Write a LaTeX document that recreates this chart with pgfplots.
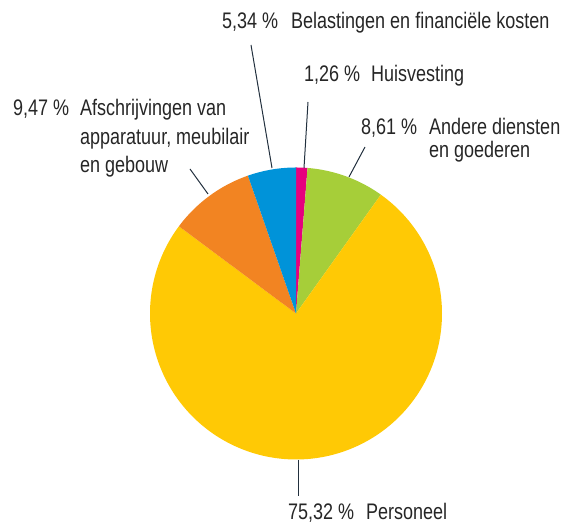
\documentclass[border=0pt]{standalone}
\usepackage{fontspec}
\setmainfont{Liberation Sans}[FakeStretch=0.80]
\usepackage{pgfplots}
\pgfplotsset{compat=1.18}
\definecolor{cpink}{HTML}{E6007E}
\definecolor{cgreen}{HTML}{A6CE39}
\definecolor{cyellow}{HTML}{FFC905}
\definecolor{corange}{HTML}{F28422}
\definecolor{cblue}{HTML}{0093D9}
\definecolor{ctext}{HTML}{262626}
\definecolor{cline}{HTML}{22303E}
\begin{document}
\begin{tikzpicture}
% shares in percent, clockwise from the top
\pgfmathsetmacro{\pA}{1.26}  % Huisvesting
\pgfmathsetmacro{\pB}{8.61}  % Andere diensten en goederen
\pgfmathsetmacro{\pC}{75.32} % Personeel
\pgfmathsetmacro{\pD}{9.47}  % Afschrijvingen
\pgfmathsetmacro{\pE}{5.34}  % Belastingen
\pgfmathsetmacro{\aO}{90}
\pgfmathsetmacro{\aA}{\aO-3.6*\pA}
\pgfmathsetmacro{\aB}{\aA-3.6*\pB}
\pgfmathsetmacro{\aC}{\aB-3.6*\pC}
\pgfmathsetmacro{\aD}{\aC-3.6*\pD}
\pgfmathsetmacro{\aE}{\aD-3.6*\pE}
\useasboundingbox (0,0) rectangle (563pt,526pt);
\begin{axis}[
  at={(0,0)}, anchor=origin,
  x=1pt, y=1pt, scale only axis,
  xmin=0, xmax=563, ymin=0, ymax=526,
  hide axis, clip=false,
]
\addplot[draw=none, fill=cpink, domain=\aA:\aO, samples=20] ({296+146*cos(x)},{212.5+146*sin(x)}) -- (axis cs:296,212.5) -- cycle;
\addplot[draw=none, fill=cgreen, domain=\aB:\aA, samples=40] ({296+146*cos(x)},{212.5+146*sin(x)}) -- (axis cs:296,212.5) -- cycle;
\addplot[draw=none, fill=cyellow, domain=\aC:\aB, samples=200] ({296+146*cos(x)},{212.5+146*sin(x)}) -- (axis cs:296,212.5) -- cycle;
\addplot[draw=none, fill=corange, domain=\aD:\aC, samples=40] ({296+146*cos(x)},{212.5+146*sin(x)}) -- (axis cs:296,212.5) -- cycle;
\addplot[draw=none, fill=cblue, domain=\aE:\aD, samples=30] ({296+146*cos(x)},{212.5+146*sin(x)}) -- (axis cs:296,212.5) -- cycle;
% leader lines
\addplot[cline, line width=1pt] coordinates {(251,481) (272,358)};
\addplot[cline, line width=1pt] coordinates {(308,424) (304,358)};
\addplot[cline, line width=1pt] coordinates {(365,379) (349,349)};
\addplot[cline, line width=1pt] coordinates {(190,357) (208,332)};
\addplot[cline, line width=1pt] coordinates {(298,66) (298,30)};
% labels
\tikzset{lab/.style={anchor=base west, inner sep=0pt, text=ctext, font=\fontsize{22.5}{26}\selectfont}}
\node[lab] at (axis cs:222,497) {5,34 \%};
\node[lab] at (axis cs:291,497) {Belastingen en financiële kosten};
\node[lab] at (axis cs:304,444) {1,26 \%};
\node[lab] at (axis cs:371,444) {Huisvesting};
\node[lab] at (axis cs:361,391) {8,61 \%};
\node[lab] at (axis cs:429,391) {Andere diensten};
\node[lab] at (axis cs:429,368) {en goederen};
\node[lab] at (axis cs:13,410) {9,47 \%};
\node[lab] at (axis cs:80,410) {Afschrijvingen van};
\node[lab] at (axis cs:80,381) {apparatuur, meubilair};
\node[lab] at (axis cs:80,353) {en gebouw};
\node[lab] at (axis cs:288,6) {75,32 \%};
\node[lab] at (axis cs:366,6) {Personeel};
\end{axis}
\end{tikzpicture}
\end{document}
